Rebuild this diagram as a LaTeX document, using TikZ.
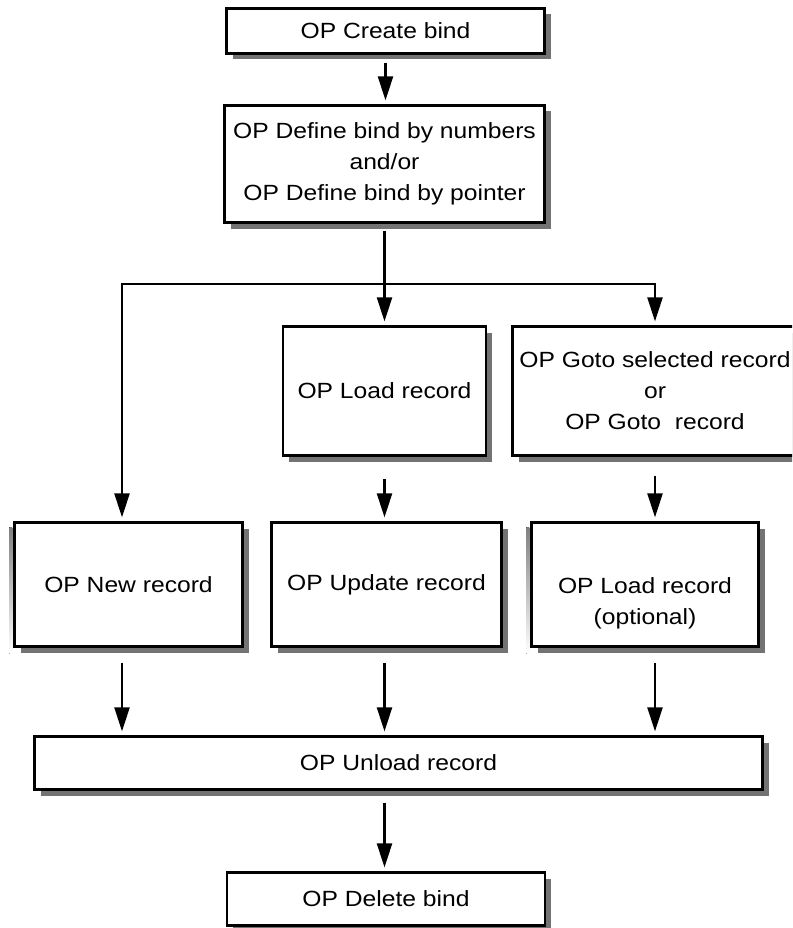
\documentclass[tikz,border=0pt]{standalone}
\usepackage{fontspec}
\setmainfont{Liberation Sans}[FakeStretch=1.12]
\usetikzlibrary{arrows.meta,calc}
\definecolor{shade}{gray}{0.45}
\tikzset{
  opbox/.style={draw, line width=2.2pt, fill=white, inner sep=0pt, align=center,
    font=\fontsize{22}{31}\selectfont,
    preaction={fill=shade, transform canvas={shift={(6pt,-6pt)}}}},
  flow/.style={line width=2.2pt},
  arr/.style={flow, -{Triangle[length=24pt,width=15pt]}, shorten >=4pt},
}
\begin{document}
\begin{tikzpicture}[x=1pt,y=-1pt]
\useasboundingbox (0,0) rectangle (792,928);
\clip (0,0) rectangle (792,928);

% boxes
\node[opbox, minimum width=318pt, minimum height=45pt] (create) at (385.5,31) {OP Create bind};
\node[opbox, minimum width=320pt, minimum height=117pt] (define) at (384.5,164)
  {OP Define bind by numbers\\and/or\\OP Define bind by pointer};
\node[opbox, minimum width=203pt, minimum height=129pt] (loadrec) at (384.5,391) {OP Load record};
\node[opbox, minimum width=285pt, minimum height=129pt] (gotorec) at (655,391)
  {OP Goto selected record\\or\\OP Goto~ record};
\node[opbox, minimum width=228pt, minimum height=124pt] (newrec) at (128.5,584.5) {OP New record};
\node[opbox, minimum width=230pt, minimum height=124pt] (update) at (386.5,584.5) {OP Update record};
\node[opbox, minimum width=227pt, minimum height=124pt] (loadopt) at (645,584.5)
  {\strut\\OP Load record\\(optional)};
\node[opbox, minimum width=728pt, minimum height=53pt] (unload) at (398.5,763) {OP Unload record};
\node[opbox, minimum width=318pt, minimum height=53pt] (delete) at (386,899) {OP Delete bind};

% left shading stripes
\fill[shade] ([xshift=-4pt,yshift=-6pt]newrec.north west) rectangle ([xshift=-1pt,yshift=-6pt]newrec.south west);
\fill[shade] ([xshift=-4pt,yshift=-6pt]loadopt.north west) rectangle ([xshift=-1pt,yshift=-6pt]loadopt.south west);

% routing points
\coordinate (split) at (define.south |- 0,284);
\coordinate (lcol) at (122,284);

% connectors
\draw[arr] ($(create.south)+(0,8)$) -- (create.south |- define.north);
\draw[flow] ($(define.south)+(0,7)$) -- (split);
\draw[arr] (split) -- (split |- loadrec.north);
\draw[arr] (split) -| (lcol |- newrec.north);
\draw[arr] (split) -| (gotorec.north);
\draw[arr] ($(split |- loadrec.south)+(0,22)$) -- (split |- update.north);
\draw[arr] ($(gotorec.south)+(0,19)$) -- (gotorec.south |- loadopt.north);
\draw[arr] ($(lcol |- newrec.south)+(0,15)$) -- (lcol |- unload.north);
\draw[arr] ($(split |- update.south)+(0,15)$) -- (split |- unload.north);
\draw[arr] ($(gotorec.south |- loadopt.south)+(0,15)$) -- (gotorec.south |- unload.north);
\draw[arr] ($(split |- unload.south)+(0,12)$) -- (split |- delete.north);
\end{tikzpicture}
\end{document}
